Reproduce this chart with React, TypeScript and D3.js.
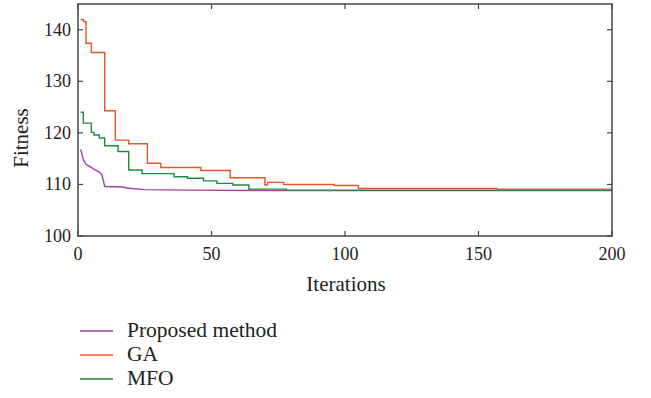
import React, { useEffect, useRef } from "react";
import * as d3 from "d3";

// Convergence curves: [iteration, best fitness] at each change point
const proposedMethod: [number, number][] = [
  [1, 116.8], [2, 114.8], [3, 113.9], [4, 113.6], [5, 113.3], [6, 112.9],
  [7, 112.7], [8, 112.4], [9, 111.8], [10, 109.6], [17, 109.5], [18, 109.3],
  [25, 109.0], [40, 108.9], [80, 108.8], [200, 108.8],
];
const gaCurve: [number, number][] = [
  [1, 142.0], [2, 141.6], [3, 137.4], [5, 135.6], [10, 124.3], [14, 118.6],
  [19, 117.9], [26, 114.1], [31, 113.3], [46, 112.7], [57, 111.3], [70, 109.9],
  [71, 110.4], [77, 110.0], [96, 109.8], [105, 109.2], [157, 109.1], [200, 109.1],
];
const mfoCurve: [number, number][] = [
  [1, 124.0], [2, 121.9], [5, 120.1], [6, 119.6], [8, 119.0], [10, 117.5],
  [15, 116.4], [19, 112.8], [24, 112.1], [36, 111.5], [41, 111.2], [47, 110.7],
  [52, 110.2], [58, 109.9], [64, 109.1], [78, 108.9], [200, 108.9],
];

const xTicks = [0, 50, 100, 150, 200];
const yTicks = [100, 110, 120, 130, 140];
const seriesNames = ["Proposed method", "GA", "MFO"];
const seriesColors = ["#a540a8", "#e8552b", "#1f8a45"];

const W = 651;
const H = 398;
const FONT = "Liberation Serif";

export default function App() {
  const ref = useRef<SVGSVGElement | null>(null);

  useEffect(() => {
    const svg = d3.select(ref.current);
    svg.selectAll("*").remove();

    const left = 78, right = 612, top = 4, bottom = 236;
    const x = d3.scaleLinear().domain([0, 200]).range([left, right]);
    const y = d3.scaleLinear().domain([100, 145]).range([bottom, top]);

    const axisColor = "#444";

    // curves
    const series = [proposedMethod, gaCurve, mfoCurve];
    const curves = [d3.curveLinear, d3.curveStepAfter, d3.curveStepAfter];
    series.forEach((data, i) => {
      const line = d3
        .line<[number, number]>()
        .x((d) => x(d[0]))
        .y((d) => y(d[1]))
        .curve(curves[i]);
      svg
        .append("path")
        .attr("d", line(data) as string)
        .attr("fill", "none")
        .attr("stroke", seriesColors[i])
        .attr("stroke-width", 1.4);
    });

    // frame
    svg
      .append("rect")
      .attr("x", left)
      .attr("y", top)
      .attr("width", right - left)
      .attr("height", bottom - top)
      .attr("fill", "none")
      .attr("stroke", axisColor)
      .attr("stroke-width", 1.5);

    const tl = 5;
    // x ticks (inward, bottom and top)
    xTicks.forEach((t) => {
      const px = x(t);
      svg.append("line").attr("x1", px).attr("x2", px).attr("y1", bottom).attr("y2", bottom - tl)
        .attr("stroke", axisColor).attr("stroke-width", 1.2);
      svg.append("line").attr("x1", px).attr("x2", px).attr("y1", top).attr("y2", top + tl)
        .attr("stroke", axisColor).attr("stroke-width", 1.2);
      svg.append("text").attr("x", px).attr("y", bottom + 24)
        .attr("text-anchor", "middle").style("font-family", FONT).style("font-size", "18px")
        .attr("fill", "#222").text(String(t));
    });
    // y ticks (inward, left and right)
    yTicks.forEach((t) => {
      const py = y(t);
      svg.append("line").attr("x1", left).attr("x2", left + tl).attr("y1", py).attr("y2", py)
        .attr("stroke", axisColor).attr("stroke-width", 1.2);
      svg.append("line").attr("x1", right).attr("x2", right - tl).attr("y1", py).attr("y2", py)
        .attr("stroke", axisColor).attr("stroke-width", 1.2);
      svg.append("text").attr("x", left - 7).attr("y", py + 6)
        .attr("text-anchor", "end").style("font-family", FONT).style("font-size", "18px")
        .attr("fill", "#222").text(String(t));
    });

    // axis titles
    svg.append("text").attr("x", (left + right) / 2 + 1).attr("y", 291)
      .attr("text-anchor", "middle").style("font-family", FONT).style("font-size", "21px")
      .attr("fill", "#222").text("Iterations");
    svg.append("text")
      .attr("transform", `translate(28, ${(top + bottom) / 2 + 18}) rotate(-90)`)
      .attr("text-anchor", "middle").style("font-family", FONT).style("font-size", "21px")
      .attr("fill", "#222").text("Fitness");

    // legend
    const legendY = [331, 355, 379];
    seriesNames.forEach((name, i) => {
      svg.append("line").attr("x1", 80).attr("x2", 113).attr("y1", legendY[i]).attr("y2", legendY[i])
        .attr("stroke", seriesColors[i]).attr("stroke-width", 1.4);
      svg.append("text").attr("x", 127).attr("y", legendY[i] + 6)
        .style("font-family", FONT).style("font-size", "21.5px").attr("fill", "#222").text(name);
    });
  }, []);

  return (
    <svg
      ref={ref}
      width={W}
      height={H}
      style={{ position: "absolute", left: 0, top: 0, background: "#fff" }}
    />
  );
}
